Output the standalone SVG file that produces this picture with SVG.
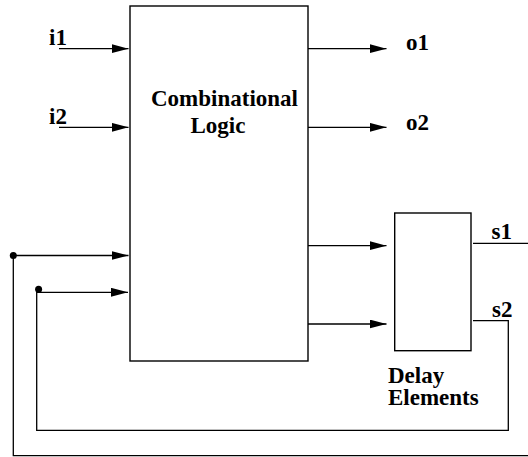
<svg xmlns="http://www.w3.org/2000/svg" width="528" height="457" viewBox="0 0 528 457">
<style>
.box{fill:none;stroke:#000;stroke-width:1.4}
.w{fill:none;stroke:#000;stroke-width:1.3}
.t{font-weight:700;font-size:23px;fill:#000}
</style>
<defs>
<marker id="ah" markerUnits="userSpaceOnUse" markerWidth="18" markerHeight="10" refX="17" refY="4.5" orient="auto">
<path d="M0,0 L17,4.5 L0,9 Z" fill="#000"/>
</marker>
</defs>
<rect width="528" height="457" fill="#fff"/>
<g font-family="Liberation Serif, Times New Roman, serif">
<g id="comb">
<rect class="box" x="130" y="6" width="178" height="355"/>
<text class="t" x="224.5" y="105.5" text-anchor="middle">Combinational</text>
<text class="t" x="218" y="133" text-anchor="middle">Logic</text>
</g>
<g id="delay">
<rect class="box" x="394.7" y="213" width="76.3" height="137.7"/>
<text class="t" x="388" y="382.5">Delay</text>
<text class="t" x="388" y="405">Elements</text>
</g>
<g id="labels">
<text class="t" x="49" y="45">i1</text>
<text class="t" x="49" y="124">i2</text>
<text class="t" x="406" y="50">o1</text>
<text class="t" x="406" y="130">o2</text>
<text class="t" x="491.5" y="239">s1</text>
<text class="t" x="492" y="316.5">s2</text>
</g>
</g>
<g id="connectors">
<line class="w" x1="59" y1="48.7" x2="128.5" y2="48.7" marker-end="url(#ah)"/>
<line class="w" x1="59" y1="127.3" x2="128.5" y2="127.3" marker-end="url(#ah)"/>
<line class="w" x1="308" y1="48.7" x2="386.5" y2="48.7" marker-end="url(#ah)"/>
<line class="w" x1="308" y1="127.3" x2="386.5" y2="127.3" marker-end="url(#ah)"/>
<line class="w" x1="308" y1="245.7" x2="386.5" y2="245.7" marker-end="url(#ah)"/>
<line class="w" x1="308" y1="324" x2="386.5" y2="324" marker-end="url(#ah)"/>
<line class="w" x1="13.3" y1="255.5" x2="128.5" y2="255.5" marker-end="url(#ah)"/>
<line class="w" x1="37" y1="292.3" x2="128" y2="292.3" marker-end="url(#ah)"/>
<polyline class="w" points="473,243.3 528,243.3"/>
<polyline class="w" points="473,320.7 508.3,320.7 508.3,430.3 36.7,430.3 36.7,289"/>
<polyline class="w" points="528,455.7 13.3,455.7 13.3,255.5"/>
<circle cx="13.3" cy="255.5" r="3.5" fill="#000"/>
<circle cx="38.6" cy="289.2" r="3.5" fill="#000"/>
</g>
</svg>
